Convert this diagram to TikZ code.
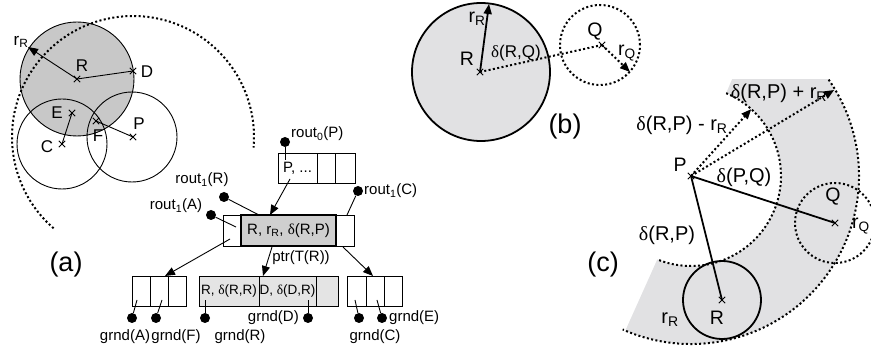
\documentclass[tikz,border=0pt]{standalone}
\usepackage{fontspec}
\setmainfont{Liberation Sans}
\newfontfamily\serf{Liberation Serif}
\usetikzlibrary{arrows.meta,shapes.misc}
\newcommand{\dl}{{\serf δ}}
\newcommand{\sbs}[1]{\textsubscript{#1}}
\definecolor{gA}{HTML}{C8C8C8}
\definecolor{gB}{HTML}{E1E1E3}
\definecolor{gBox}{HTML}{CFCFCF}
\definecolor{gLow}{HTML}{E4E4E4}
\tikzset{
  thinl/.style={line width=0.9pt},
  thickl/.style={line width=1.8pt},
  dotl/.style={line width=2pt, dash pattern=on 2pt off 2.4pt},
  tip/.style={-{Triangle[length=10pt,width=8pt]}},
  xm/.style={cross out, draw, minimum size=5.5pt, inner sep=0pt, line width=0.9pt},
  blob/.style={circle, fill, inner sep=0pt, minimum size=10pt},
  cellbox/.style={draw, line width=0.9pt, minimum height=30pt, inner sep=0pt, outer sep=0pt, anchor=north west},
  lbl/.style={inner sep=0pt},
  fsA/.style={font=\fontsize{15}{17}\selectfont},
  fsB/.style={font=\fontsize{17}{19}\selectfont},
  fsE/.style={font=\fontsize{19.5}{21}\selectfont},
  fsC/.style={font=\fontsize{20}{22}\selectfont},
  fsD/.style={font=\fontsize{27}{30}\selectfont},
}
\begin{document}
\begin{tikzpicture}[x=1pt,y=-1pt]
\useasboundingbox (0,0) rectangle (871,347);
% ---------------- panel (a): circles
\fill[gA] (77,79) circle[radius=57pt];
\draw[thinl] (77,79) circle[radius=57pt];
\draw[thinl] (62,144) circle[radius=45pt];
\draw[thinl] (132,137) circle[radius=45pt];
\node[xm] (aR) at (77,79) {};
\node[xm] (aD) at (133,71) {};
\node[xm] (aE) at (72,113) {};
\node[xm] (aC) at (62,144) {};
\node[xm] (aF) at (96,121) {};
\node[xm] (aP) at (133,137) {};
\coordinate (arR) at (28,47);
\draw[thinl] (aR.center) -- (aD.center);
\draw[thinl] (aC.center) -- (aE.center);
\draw[thinl] (aF.center) -- (aP.center);
\draw[thinl,tip] (aR.center) -- (arR);
\draw[dotl] (aP.center) ++(-131:121pt) arc[start angle=-131, end angle=-365, radius=121pt];
\node[lbl,fsB] at (82,66) {R};
\node[lbl,fsB] at (147,72) {D};
\node[lbl,fsB] at (57,113) {E};
\node[lbl,fsB] at (47,147) {C};
\node[lbl,fsB] at (98,136) {F};
\node[lbl,fsB] at (139,124) {P};
\node[lbl,fsB] at (21,42) {r\sbs{R}};
\node[lbl,fsD] at (66,265) {(a)};
% ---------------- panel (a): tree
\node[cellbox, minimum width=39pt, fsA] (t1) at (278,153) {P, ...};
\node[cellbox, minimum width=18pt] (t2) at (317,153) {};
\node[cellbox, minimum width=20pt] (t3) at (335,153) {};
\node[cellbox, minimum width=18pt, minimum height=31pt] (m1) at (223,215) {};
\node[cellbox, minimum width=18pt, minimum height=31pt] (m3) at (336,215) {};
\node[cellbox, minimum width=95pt, minimum height=31pt, fill=gBox, line width=2.2pt, fsA] (m2) at (241,215) {R, r\sbs{R}, \dl(R,P)};
\node[cellbox, minimum width=18pt] (l1) at (132,276) {};
\node[cellbox, minimum width=18pt] (l2) at (150,276) {};
\node[cellbox, minimum width=18pt] (l3) at (168,276) {};
\node[cellbox, minimum width=60pt, fill=gLow, font=\fontsize{13.5}{15}\selectfont] (c1) at (199,276) {R, \dl(R,R)};
\node[cellbox, minimum width=57pt, fill=gLow, font=\fontsize{13.5}{15}\selectfont] (c2) at (259,276) {D, \dl(D,R)};
\node[cellbox, minimum width=22pt, fill=gLow] (c3) at (316,276) {};
\node[cellbox, minimum width=19pt] (r1) at (347,276) {};
\node[cellbox, minimum width=18pt] (r2) at (366,276) {};
\node[cellbox, minimum width=18pt] (r3) at (384,276) {};
% connectors of the tree
\coordinate (a1s) at (290,179); \coordinate (a1e) at (270,215);
\coordinate (a2s) at (230,239); \coordinate (a2e) at (165,276);
\coordinate (a3s) at (272,247); \coordinate (a3e) at (263,276);
\coordinate (a4s) at (343,247); \coordinate (a4e) at (373,276);
\draw[thinl,tip] (a1s) -- (a1e);
\draw[thinl,tip] (a2s) -- (a2e);
\draw[thinl,tip] (a3s) -- (a3e);
\draw[thinl,tip] (a4s) -- (a4e);
\node[lbl,fsA] (ptr) at (301,258) {ptr(T(R))};
% routing dots
\node[blob] (d0) at (285,142) {}; \coordinate (e0) at (285,160);
\node[blob] (dR) at (224,197) {}; \coordinate (eR) at (259,215);
\node[blob] (dA) at (211,215) {}; \coordinate (eA) at (236,227);
\node[blob] (dC) at (358,191) {}; \coordinate (eC) at (347,215);
\draw[thinl] (d0) -- (e0);
\draw[thinl] (dR) -- (eR);
\draw[thinl] (dA) -- (eA);
\draw[thinl] (dC) -- (eC);
\node[lbl,fsA,anchor=west] at (291,134) {rout\sbs{0}(P)};
\node[lbl,fsA] at (202,180) {rout\sbs{1}(R)};
\node[lbl,fsA] at (176,206) {rout\sbs{1}(A)};
\node[lbl,fsA,anchor=west] at (364,191) {rout\sbs{1}(C)};
% ground dots
\node[blob] (gA) at (132,318) {}; \coordinate (hA) at (137,300);
\node[blob] (gF) at (156,318) {}; \coordinate (hF) at (162,300);
\node[blob] (gR) at (205,318) {}; \coordinate (hR) at (205,300);
\node[blob] (gD) at (308,318) {}; \coordinate (hD) at (308,300);
\node[blob] (gC) at (359,318) {}; \coordinate (hC) at (355,300);
\node[blob] (gE) at (382,318) {}; \coordinate (hE) at (377,300);
\draw[thinl] (gA) -- (hA);
\draw[thinl] (gF) -- (hF);
\draw[thinl] (gR) -- (hR);
\draw[thinl] (gD) -- (hD);
\draw[thinl] (gC) -- (hC);
\draw[thinl] (gE) -- (hE);
\node[lbl,fsA] at (125,337) {grnd(A)};
\node[lbl,fsA] at (176,337) {grnd(F)};
\node[lbl,fsA] at (240,337) {grnd(R)};
\node[lbl,fsA,anchor=east] at (299,318) {grnd(D)};
\node[lbl,fsA] at (375,337) {grnd(C)};
\node[lbl,fsA,anchor=west] at (389,318) {grnd(E)};
% ---------------- panel (b)
\fill[gB] (481,72) circle[radius=69pt];
\draw[thickl] (481,72) circle[radius=69pt];
\draw[dotl] (600,45) circle[radius=40pt];
\node[xm] (bR) at (480,72) {};
\node[xm] (bQ) at (602,45) {};
\coordinate (brR) at (489,4);
\coordinate (brQ) at (630,72);
\draw[thickl,tip] (bR.center) -- (brR);
\draw[dotl] (bR.center) -- (bQ.center);
\draw[dotl,tip] (bQ.center) -- (brQ);
\node[lbl,fsE] at (467,59) {R};
\node[lbl,fsE] at (477,19) {r\sbs{R}};
\node[lbl,fsB] at (516,53) {\dl(R,Q)};
\node[lbl,fsE] at (595,32) {Q};
\node[lbl,fsE] at (627,53) {r\sbs{Q}};
\node[lbl,fsD] at (565,127) {(b)};
% ---------------- panel (c)
\coordinate (cP0) at (691,176);
\begin{scope}
\clip (560,80) rectangle (900,347);
\fill[gB] (cP0) ++(67:90pt) arc[start angle=67, end angle=-112, radius=90pt]
  -- ([shift={(-113:168pt)}]cP0) arc[start angle=-113, end angle=67, radius=168pt] -- cycle;
\draw[dotl] (cP0) ++(67:90pt) arc[start angle=67, end angle=-112, radius=90pt];
\draw[dotl] (cP0) ++(62:168pt) arc[start angle=62, end angle=-114, radius=168pt];
\end{scope}
\draw[dotl] (835,223) circle[radius=40pt];
\draw[thickl] (722,300) circle[radius=39pt];
\node[xm] (cP) at (691,176) {};
\node[xm] (cR) at (722,300) {};
\node[xm] (cQ) at (835,223) {};
\coordinate (cin) at ([shift={(48:90pt)}]cP0);
\coordinate (cout) at ([shift={(31:167pt)}]cP0);
\draw[thickl] (cP.center) -- (cR.center);
\draw[thickl] (cP.center) -- (cQ.center);
\draw[dotl,tip] (cP.center) -- (cin);
\draw[dotl,tip] (cP.center) -- (cout);
\node[lbl,fsE] at (680,165) {P};
\node[lbl,fsE] at (717,318) {R};
\node[lbl,fsE] at (833,197) {Q};
\node[lbl,fsE,anchor=east] at (870,226) {r\sbs{Q}};
\node[lbl,fsC] at (682,125) {\dl(R,P) - r\sbs{R}};
\node[lbl,fsC] at (779,93) {\dl(R,P) + r\sbs{R}};
\node[lbl,fsC] at (744,177) {\dl(P,Q)};
\node[lbl,fsC] at (667,235) {\dl(R,P)};
\node[lbl,fsC] at (670,320) {r\sbs{R}};
\node[lbl,fsD] at (603,265) {(c)};
\end{tikzpicture}
\end{document}
